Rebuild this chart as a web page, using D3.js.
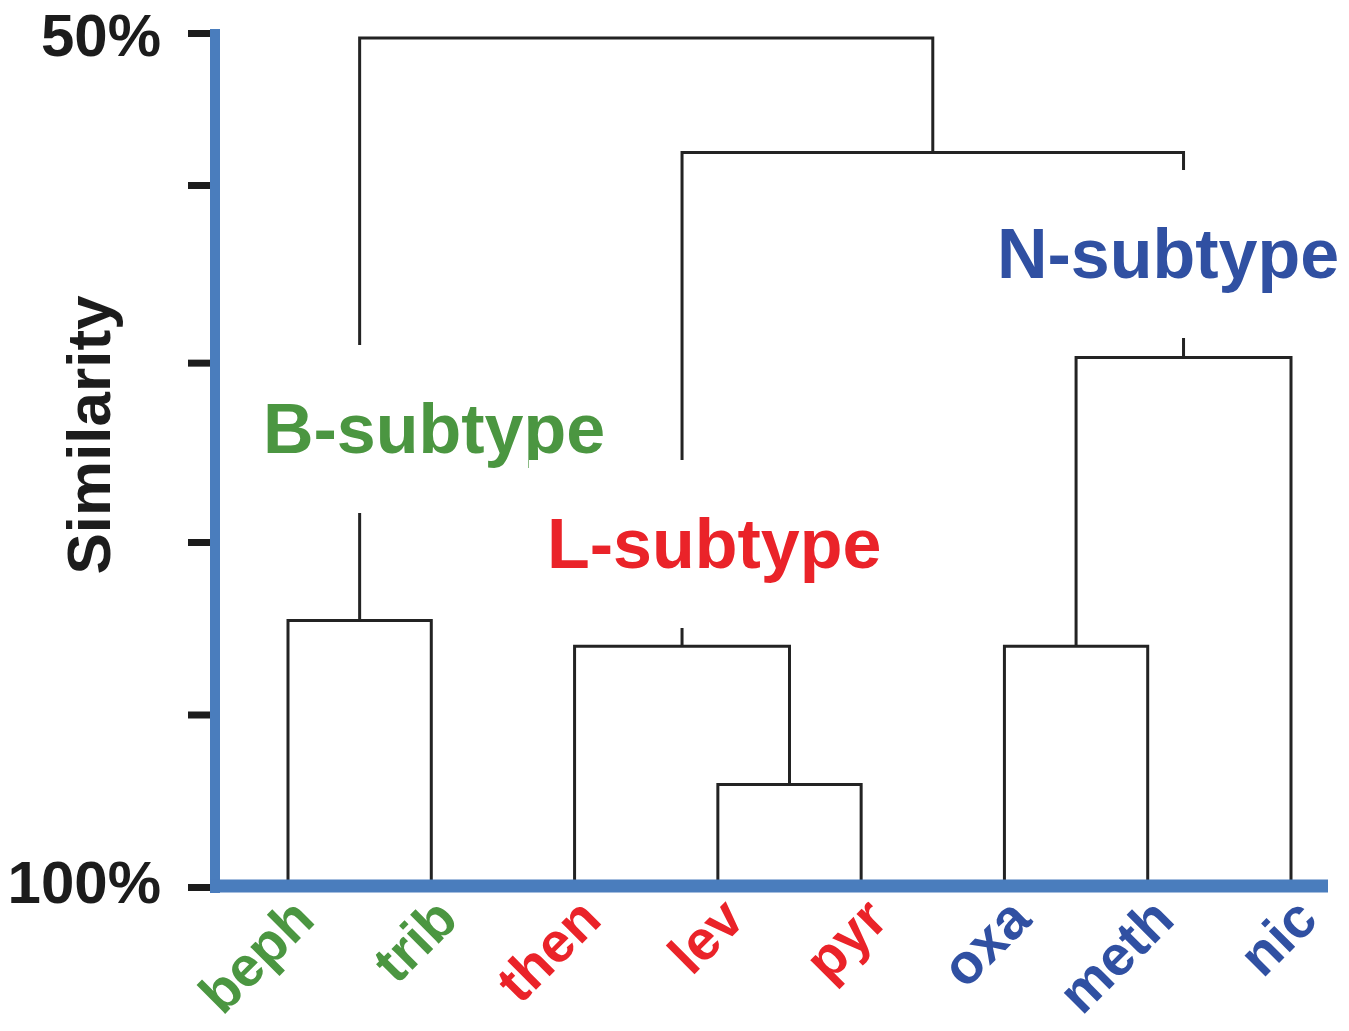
<!DOCTYPE html>
<html>
<head>
<meta charset="utf-8">
<script src="https://cdn.jsdelivr.net/npm/d3@7"></script>
<style>
    body { margin: 0; background: white; }
    svg { display: block; font-family: "Liberation Sans", Arial, sans-serif; font-weight: bold; }
</style>
</head>
<body>
<div id="dendro"></div>
<script>
// leaves of the tree, left to right
var leaves = ["beph", "trib", "then", "lev", "pyr", "oxa", "meth", "nic"]
var leafGroup = ["B", "B", "L", "L", "L", "N", "N", "N"]

// merges: ids 0-7 are leaves, merge k gets id 8 + k
var mergeLeft = [0, 3, 2, 5, 11, 10, 8]
var mergeRight = [1, 4, 9, 6, 7, 12, 13]
var mergeSim = [84.4, 94.0, 85.9, 85.9, 69.0, 57.0, 50.3]

// y axis ticks (similarity %)
var tickVals = [50, 58.9, 69.3, 79.8, 89.9, 100]
var tickText = ["50%", "", "", "", "", "100%"]

var groups = ["B", "L", "N"]
var groupNames = ["B-subtype", "L-subtype", "N-subtype"]
var groupColor = d3.scaleOrdinal().domain(groups).range(["#4b9641", "#ea2329", "#3050a2"])

var width = 1349, height = 1031
var axisX = 215

var svg = d3.select("#dendro")
    .append("svg")
    .attr("width", width)
    .attr("height", height)

var xScale = d3.scalePoint()
    .domain(leaves)
    .range([288, 1291])

var yScale = d3.scaleLinear()
    .domain([50, 100])
    .range([33, 887])

// Y axis with ticks, the blue line is drawn on top later
var yAxis = svg.append("g")
    .attr("transform", "translate(" + axisX + ",0)")
    .call(d3.axisLeft(yScale)
        .tickValues(tickVals)
        .tickFormat(function (d, i) { return tickText[i] })
        .tickSize(27)
        .tickSizeOuter(0)
        .tickPadding(27))
yAxis.select(".domain").remove()
yAxis.selectAll(".tick line")
    .attr("stroke", "#1c1c1c")
    .attr("stroke-width", 7)
yAxis.selectAll(".tick text")
    .attr("fill", "#1c1c1c")
    .style("font-size", "60px")
    .style("font-family", "Liberation Sans, Arial, sans-serif")
    .style("font-weight", "bold")
    .attr("dy", function (d, i) { return i == 0 ? "0.38em" : "0.26em" })

// Y axis label
svg.append("text")
    .attr("text-anchor", "middle")
    .attr("transform", "translate(110," + 435 + ") rotate(-90)")
    .attr("fill", "#1c1c1c")
    .style("font-size", "62px")
    .text("Similarity")

// dendrogram links
var baseY = yScale(100) - 6
var nodeX = [], nodeY = []
for (var i = 0; i < leaves.length; i++) {
    nodeX.push(xScale(leaves[i]))
    nodeY.push(baseY)
}
var links = []
for (var k = 0; k < mergeSim.length; k++) {
    var l = mergeLeft[k], r = mergeRight[k]
    var ym = yScale(mergeSim[k])
    links.push({ xl: nodeX[l], yl: nodeY[l], xr: nodeX[r], yr: nodeY[r], ym: ym })
    nodeX.push((nodeX[l] + nodeX[r]) / 2)
    nodeY.push(ym)
}

svg.append("g")
    .selectAll("path")
    .data(links)
    .enter()
    .append("path")
    .attr("d", function (d) {
        return "M" + d.xl + "," + d.yl + "V" + d.ym + "H" + d.xr + "V" + d.yr
    })
    .attr("fill", "none")
    .attr("stroke", "#232323")
    .attr("stroke-width", 3)

// blue axis lines
svg.append("line")
    .attr("x1", axisX).attr("x2", axisX)
    .attr("y1", 29).attr("y2", yScale(100) + 6)
    .attr("stroke", "#4a7dbd")
    .attr("stroke-width", 10)
svg.append("line")
    .attr("x1", axisX - 5).attr("x2", 1328)
    .attr("y1", yScale(100) - 1).attr("y2", yScale(100) - 1)
    .attr("stroke", "#4a7dbd")
    .attr("stroke-width", 13)

// leaf labels, rotated
svg.append("g")
    .selectAll("text")
    .data(leaves)
    .enter()
    .append("text")
    .attr("text-anchor", "end")
    .attr("transform", function (d) { return "translate(" + (xScale(d) + 29) + ",922) rotate(-45)" })
    .attr("fill", function (d, i) { return groupColor(leafGroup[i]) })
    .style("font-size", "56px")
    .text(function (d) { return d })

// subtype labels with white box that cuts the tree lines
var labelPos = [[263, 453], [547, 568], [997, 278]]
var lab = svg.append("g")
for (var g = 0; g < groups.length; g++) {
    var box = lab.append("rect").attr("fill", "white")
    var t = lab.append("text")
        .attr("x", labelPos[g][0])
        .attr("y", labelPos[g][1])
        .attr("fill", groupColor(groups[g]))
        .style("font-size", "70px")
        .text(groupNames[g])
    var bb = t.node().getBBox()
    box.attr("x", bb.x - 18)
        .attr("y", bb.y - 45)
        .attr("width", bb.width + 36)
        .attr("height", bb.height + 90)
}
</script>
</body>
</html>
